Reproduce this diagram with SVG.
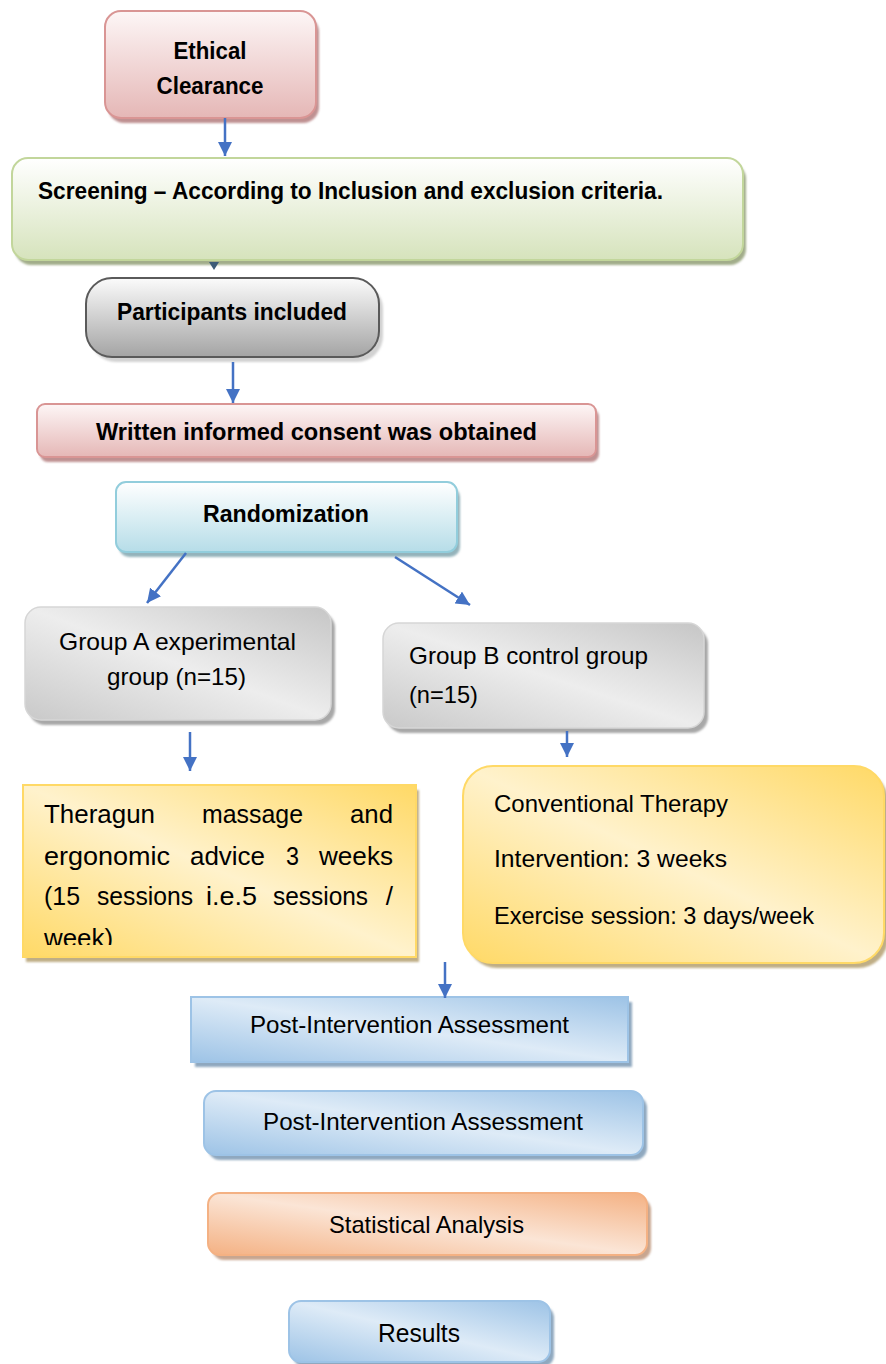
<svg xmlns="http://www.w3.org/2000/svg" width="886" height="1364" viewBox="0 0 886 1364">
<defs>
<style>
.t{font-family:"Liberation Sans",Arial,sans-serif;fill:#000;}
.b{font-weight:bold;font-size:23px;}
.r{font-size:24px;}
.th{font-size:26px;}
.c{stroke:#4472c4;stroke-width:2.5;fill:none;marker-end:url(#ah);}
</style>
<marker id="ah" markerUnits="userSpaceOnUse" markerWidth="14" markerHeight="14" refX="14" refY="7" orient="auto">
<path d="M0,0 L14,7 L0,14 z" fill="#4472c4"/>
</marker>
<filter id="sh" x="-5%" y="-5%" width="110%" height="115%"><feGaussianBlur stdDeviation="0.8"/></filter>
<linearGradient id="gPink" x1="0" y1="0" x2="0" y2="1"><stop offset="0" stop-color="#fdf6f6"/><stop offset="1" stop-color="#e5b7b6"/></linearGradient>
<linearGradient id="gGreen" x1="0" y1="0" x2="0" y2="1"><stop offset="0" stop-color="#ffffff"/><stop offset="1" stop-color="#d6e3bc"/></linearGradient>
<linearGradient id="gGrayV" x1="0" y1="0" x2="0" y2="1"><stop offset="0" stop-color="#fbfbfb"/><stop offset="1" stop-color="#a4a4a4"/></linearGradient>
<linearGradient id="gCyan" x1="0" y1="0" x2="0" y2="1"><stop offset="0" stop-color="#ffffff"/><stop offset="1" stop-color="#b6dde8"/></linearGradient>
<linearGradient id="gGray" x1="0" y1="1" x2="1" y2="0"><stop offset="0" stop-color="#c9c9c9"/><stop offset="0.5" stop-color="#ededed"/><stop offset="1" stop-color="#c6c6c6"/></linearGradient>
<linearGradient id="gYel" x1="0" y1="1" x2="1" y2="0"><stop offset="0" stop-color="#ffd966"/><stop offset="0.5" stop-color="#fff2cc"/><stop offset="1" stop-color="#ffd966"/></linearGradient>
<linearGradient id="gBlue" x1="0" y1="1" x2="1" y2="0"><stop offset="0" stop-color="#9dc3e6"/><stop offset="0.5" stop-color="#deebf7"/><stop offset="1" stop-color="#9dc3e6"/></linearGradient>
<linearGradient id="gOr" x1="0" y1="1" x2="1" y2="0"><stop offset="0" stop-color="#f4b183"/><stop offset="0.5" stop-color="#fbe5d6"/><stop offset="1" stop-color="#f4b183"/></linearGradient>
<clipPath id="clipTh"><rect x="23" y="785" width="393" height="160"/></clipPath>
</defs>
<rect width="886" height="1364" fill="#ffffff"/>

<g id="ethical">
<rect x="108" y="16" width="211" height="107" rx="16" fill="#bf9192" filter="url(#sh)"/>
<rect x="105" y="11" width="211" height="107" rx="16" fill="url(#gPink)" stroke="#d99594" stroke-width="2"/>
<text class="t b" x="210" y="59" text-anchor="middle" textLength="73" lengthAdjust="spacingAndGlyphs">Ethical</text>
<text class="t b" x="210" y="94" text-anchor="middle" textLength="107" lengthAdjust="spacingAndGlyphs">Clearance</text>
</g>

<g id="screening">
<rect x="15" y="163" width="731" height="102" rx="16" fill="#a2ad8a" filter="url(#sh)"/>
<rect x="12" y="158" width="731" height="102" rx="16" fill="url(#gGreen)" stroke="#c2d69b" stroke-width="2"/>
<text class="t b" x="38" y="199" textLength="625" lengthAdjust="spacingAndGlyphs">Screening – According to Inclusion and exclusion criteria.</text>
</g>

<g id="participants">
<rect x="90" y="283" width="293" height="79" rx="26" fill="#d2d2d2" filter="url(#sh)"/>
<rect x="86" y="278" width="293" height="79" rx="26" fill="url(#gGrayV)" stroke="#5a5a5a" stroke-width="2"/>
<text class="t b" x="117" y="320" textLength="230" lengthAdjust="spacingAndGlyphs">Participants included</text>
</g>

<g id="consent">
<rect x="40" y="409" width="559" height="53" rx="8" fill="#bf9192" filter="url(#sh)"/>
<rect x="37" y="404" width="559" height="53" rx="8" fill="url(#gPink)" stroke="#d99594" stroke-width="2"/>
<text class="t b" x="96" y="440" textLength="441" lengthAdjust="spacingAndGlyphs">Written informed consent was obtained</text>
</g>

<g id="randomization">
<rect x="119" y="487" width="341" height="70" rx="10" fill="#94b3bb" filter="url(#sh)"/>
<rect x="116" y="482" width="341" height="70" rx="10" fill="url(#gCyan)" stroke="#92cddc" stroke-width="2"/>
<text class="t b" x="203" y="522" textLength="166" lengthAdjust="spacingAndGlyphs">Randomization</text>
</g>

<g id="groupA">
<rect x="29" y="612" width="306" height="113" rx="16" fill="#a8a8a8" filter="url(#sh)"/>
<rect x="25" y="607" width="306" height="113" rx="16" fill="url(#gGray)" stroke="#d6d6d6" stroke-width="1.5"/>
<text class="t r" x="59" y="650" textLength="237" lengthAdjust="spacingAndGlyphs">Group A experimental</text>
<text class="t r" x="107" y="685" textLength="139" lengthAdjust="spacingAndGlyphs">group (n=15)</text>
</g>

<g id="groupB">
<rect x="387" y="628" width="321" height="105" rx="16" fill="#a8a8a8" filter="url(#sh)"/>
<rect x="383" y="623" width="321" height="105" rx="16" fill="url(#gGray)" stroke="#d6d6d6" stroke-width="1.5"/>
<text class="t r" x="409" y="664" textLength="239" lengthAdjust="spacingAndGlyphs">Group B control group</text>
<text class="t r" x="409" y="703" textLength="69" lengthAdjust="spacingAndGlyphs">(n=15)</text>
</g>

<g id="theragun">
<rect x="26" y="790" width="393" height="172" fill="#bfae86" filter="url(#sh)"/>
<rect x="23" y="785" width="393" height="172" fill="url(#gYel)" stroke="#ffd966" stroke-width="2"/>
<g clip-path="url(#clipTh)">
<text class="t th" x="44" y="823" textLength="111" lengthAdjust="spacingAndGlyphs">Theragun</text>
<text class="t th" x="202" y="823" textLength="101" lengthAdjust="spacingAndGlyphs">massage</text>
<text class="t th" x="350" y="823" textLength="43" lengthAdjust="spacingAndGlyphs">and</text>
<text class="t th" x="44" y="865" textLength="126" lengthAdjust="spacingAndGlyphs">ergonomic</text>
<text class="t th" x="190" y="865" textLength="75" lengthAdjust="spacingAndGlyphs">advice</text>
<text class="t th" x="286" y="865" textLength="13" lengthAdjust="spacingAndGlyphs">3</text>
<text class="t th" x="319" y="865" textLength="74" lengthAdjust="spacingAndGlyphs">weeks</text>
<text class="t th" x="44" y="905" textLength="36" lengthAdjust="spacingAndGlyphs">(15</text>
<text class="t th" x="97" y="905" textLength="96" lengthAdjust="spacingAndGlyphs">sessions</text>
<text class="t th" x="206" y="905" textLength="51" lengthAdjust="spacingAndGlyphs">i.e.5</text>
<text class="t th" x="273" y="905" textLength="95" lengthAdjust="spacingAndGlyphs">sessions</text>
<text class="t th" x="393" y="905" text-anchor="end">/</text>
<text class="t th" x="44" y="947" textLength="69" lengthAdjust="spacingAndGlyphs">week)</text>
</g>
</g>

<g id="conventional">
<rect x="467" y="771" width="421" height="197" rx="30" fill="#bfae86" filter="url(#sh)"/>
<rect x="463" y="766" width="421" height="197" rx="30" fill="url(#gYel)" stroke="#ffd966" stroke-width="2"/>
<text class="t r" x="494" y="812" textLength="234" lengthAdjust="spacingAndGlyphs">Conventional Therapy</text>
<text class="t r" x="494" y="867" textLength="233" lengthAdjust="spacingAndGlyphs">Intervention: 3 weeks</text>
<text class="t r" x="494" y="924" textLength="320" lengthAdjust="spacingAndGlyphs">Exercise session: 3 days/week</text>
</g>

<g id="post1">
<rect x="195" y="1002" width="437" height="65" fill="#8fa8bf" filter="url(#sh)"/>
<rect x="191" y="997" width="437" height="65" fill="url(#gBlue)" stroke="#9dc3e6" stroke-width="2"/>
<text class="t r" x="250" y="1033" textLength="319" lengthAdjust="spacingAndGlyphs">Post-Intervention Assessment</text>
</g>

<g id="post2">
<rect x="208" y="1096" width="439" height="64" rx="12" fill="#8fa8bf" filter="url(#sh)"/>
<rect x="204" y="1091" width="439" height="64" rx="12" fill="url(#gBlue)" stroke="#9dc3e6" stroke-width="2"/>
<text class="t r" x="263" y="1130" textLength="320" lengthAdjust="spacingAndGlyphs">Post-Intervention Assessment</text>
</g>

<g id="stats">
<rect x="212" y="1198" width="439" height="62" rx="12" fill="#c8a690" filter="url(#sh)"/>
<rect x="208" y="1193" width="439" height="62" rx="12" fill="url(#gOr)" stroke="#f4b183" stroke-width="2"/>
<text class="t r" x="329" y="1233" textLength="195" lengthAdjust="spacingAndGlyphs">Statistical Analysis</text>
</g>

<g id="results">
<rect x="293" y="1306" width="261" height="61" rx="12" fill="#8fa8bf" filter="url(#sh)"/>
<rect x="289" y="1301" width="261" height="61" rx="12" fill="url(#gBlue)" stroke="#9dc3e6" stroke-width="2"/>
<text class="t" style="font-size:26px" x="378" y="1342" textLength="82" lengthAdjust="spacingAndGlyphs">Results</text>
</g>

<g id="connectors">
<line class="c" x1="225" y1="118" x2="225" y2="156"/>
<polygon points="209,262 219,262 214,270" fill="#3d5b78"/>
<line class="c" x1="233" y1="362" x2="233" y2="403"/>
<line class="c" x1="186" y1="553" x2="147" y2="603"/>
<line class="c" x1="395" y1="557" x2="470" y2="605"/>
<line class="c" x1="190" y1="732" x2="190" y2="771"/>
<line class="c" x1="567" y1="731" x2="567" y2="757"/>
<line class="c" x1="445" y1="962" x2="445" y2="998"/>
</g>
</svg>
